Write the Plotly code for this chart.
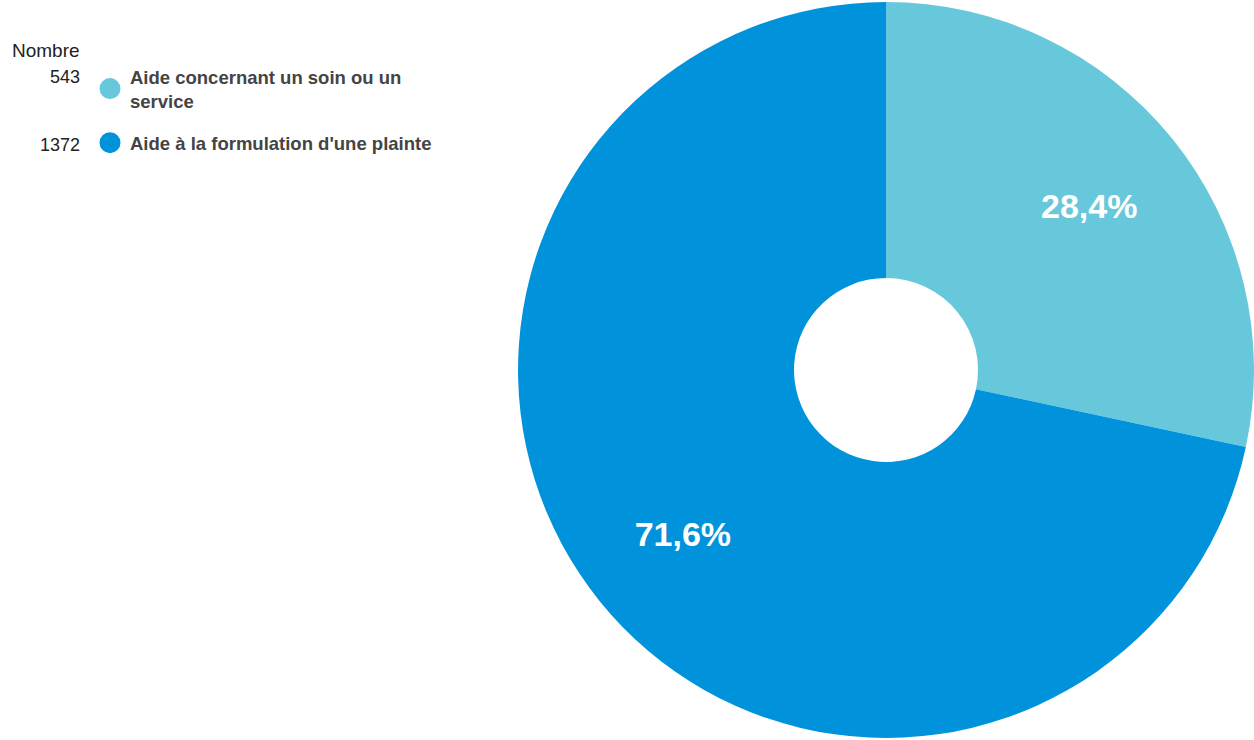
import plotly.graph_objects as go

# Données
categories = ["Aide concernant un soin ou un service", "Aide à la formulation d'une plainte"]
legend_labels = ["Aide concernant un soin ou un<br>service", "Aide à la formulation d'une plainte"]
counts = [543, 1372]
colors = ["#67C8DC", "#0093DC"]
count_header = "Nombre"

W, H = 1254, 740
FONT = "Liberation Sans, Arial, sans-serif"
domain = dict(x=[0.4131, 1.0], y=[0.0, 1.0])

fig = go.Figure()

# Donut slices
fig.add_trace(go.Pie(
    labels=categories,
    values=counts,
    hole=0.25,
    sort=False,
    direction="clockwise",
    rotation=0,
    marker=dict(colors=colors, line=dict(width=0)),
    textinfo="none",
    showlegend=False,
    domain=domain,
    hoverinfo="label+value+percent",
))

# Transparent ring carrying the percentage labels further out
fig.add_trace(go.Pie(
    labels=categories,
    values=counts,
    hole=0.42,
    sort=False,
    direction="clockwise",
    rotation=0,
    marker=dict(colors=["rgba(0,0,0,0)"] * len(counts), line=dict(width=0)),
    texttemplate="%{percent:.1%}",
    textposition="inside",
    insidetextorientation="horizontal",
    insidetextfont=dict(color="white", size=34, family=FONT, weight="bold"),
    showlegend=False,
    domain=domain,
    hoverinfo="skip",
))

# Legend entries with round markers
for i, (lab, col) in enumerate(zip(legend_labels, colors)):
    fig.add_trace(go.Scatter(
        x=[None], y=[None], mode="markers", name=lab,
        legendgroup=f"g{i}",
        marker=dict(symbol="circle", size=16, color=col, line=dict(color=col, width=5)),
        showlegend=True, hoverinfo="skip",
    ))

# Count column beside the legend
annos = [dict(text=count_header, x=82 / W, y=1 - 51 / H, font=dict(size=19))]
for c, ypx in zip(counts, [77, 145]):
    annos.append(dict(text=str(c), x=82 / W, y=1 - ypx / H, font=dict(size=18)))
for a in annos:
    a.update(xref="paper", yref="paper", xanchor="right", yanchor="middle",
             showarrow=False)
    a["font"].update(color="#222222", family=FONT)

fig.update_layout(
    width=W, height=H,
    margin=dict(l=0, r=0, t=0, b=0),
    paper_bgcolor="white", plot_bgcolor="white",
    xaxis=dict(visible=False), yaxis=dict(visible=False),
    separators=",.",
    annotations=annos,
    legend=dict(
        x=90 / W, y=1 - 58 / H, xanchor="left", yanchor="top",
        font=dict(size=18.5, color="#444444", family=FONT, weight="bold"),
        tracegroupgap=15, itemsizing="trace", bgcolor="rgba(0,0,0,0)",
    ),
)

fig.write_html("out.html")
